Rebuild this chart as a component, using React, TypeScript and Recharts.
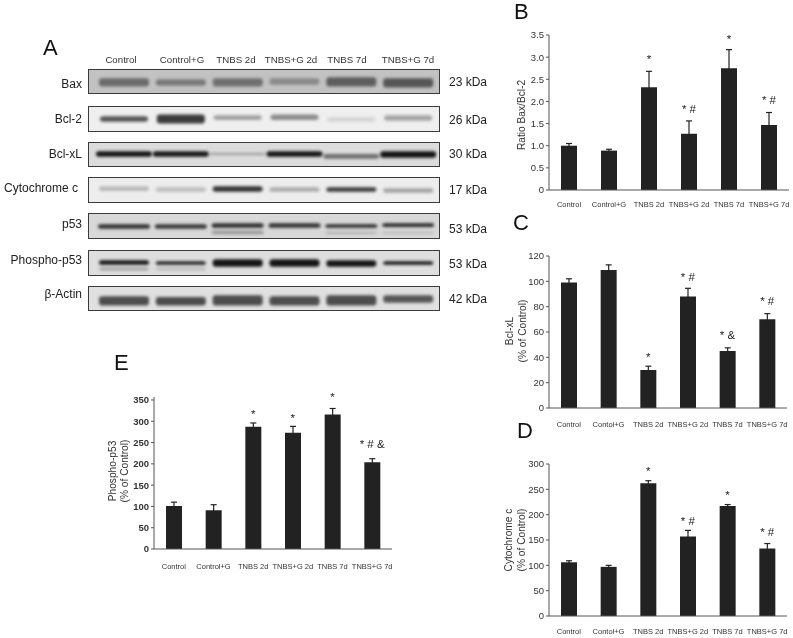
import { ComposedChart, Bar, Line, XAxis, YAxis, ErrorBar, LabelList, Label } from 'recharts';

const groups = ['Control', 'Control+G', 'TNBS 2d', 'TNBS+G 2d', 'TNBS 7d', 'TNBS+G 7d'];
const groupsTypo = ['Control', 'Contol+G', 'TNBS 2d', 'TNBS+G 2d', 'TNBS 7d', 'TNBS+G 7d'];

// bar heights, error sizes, significance marks and the height each mark sits at
const baxValues = [1.0, 0.89, 2.32, 1.27, 2.75, 1.47];
const baxErrors = [0.05, 0.03, 0.36, 0.29, 0.42, 0.28];
const baxMarks = ['', '', '*', '* #', '*', '* #'];
const baxMarkAt = [null, null, 2.96, 1.83, 3.41, 2.03];

const xlValues = [99, 109, 30, 88, 45, 70];
const xlErrors = [3, 4, 3, 6.5, 2.5, 4.5];
const xlMarks = ['', '', '*', '* #', '* &', '* #'];
const xlMarkAt = [null, null, 40, 103.6, 57.6, 84.4];

const cytValues = [106, 97, 262, 157, 217, 133];
const cytErrors = [3, 3, 5, 12, 3, 10];
const cytMarks = ['', '', '*', '* #', '*', '* #'];
const cytMarkAt = [null, null, 286.6, 187, 238.6, 165];

const phosValues = [101, 91, 287, 273, 316, 204];
const phosErrors = [9, 13, 9, 15, 14, 8];
const phosMarks = ['', '', '*', '*', '*', '* # &'];
const phosMarkAt = [null, null, 318, 309, 357, 246];

// blot bands: [from, to] height inside the strip, and how dark each band is
const blotRows = [
  { name: 'Bax', kda: '23 kDa', top: 69, h: 25, bg: '#c2c2c2', size: 50, kdaTop: 82.5, labelTop: 84.5, labelRight: 82,
    main: [[7, 16], [8, 15], [7, 16], [9, 16], [7, 17], [6, 16]], dark: [0.5, 0.42, 0.48, 0.32, 0.58, 0.62] },
  { name: 'Bcl-2', kda: '26 kDa', top: 106, h: 26, bg: '#efefef', size: 48, kdaTop: 120.5, labelTop: 119.5, labelRight: 82,
    main: [[10, 16], [8, 18], [12, 17], [12, 18], [10, 15], [11, 17]], dark: [0.7, 0.82, 0.36, 0.46, 0.12, 0.34] },
  { name: 'Bcl-xL', kda: '30 kDa', top: 142, h: 25, bg: '#dcdcdc', size: 56, kdaTop: 155, labelTop: 154.5, labelRight: 82,
    main: [[10, 16], [10, 16], [12, 14], [10, 16], [8, 13], [9, 16]], dark: [1, 0.98, 0.35, 1, 0.55, 1] },
  { name: 'Cytochrome c', kda: '17 kDa', top: 177, h: 26, bg: '#ededed', size: 50, kdaTop: 190.5, labelTop: 188.5, labelRight: 78,
    main: [[12, 17], [11, 16], [11, 17], [11, 16], [11, 16], [10, 15]], dark: [0.24, 0.22, 0.85, 0.3, 0.82, 0.34] },
  { name: 'p53', kda: '53 kDa', top: 213, h: 26, bg: '#d8d8d8', size: 52, kdaTop: 230, labelTop: 224.5, labelRight: 82,
    main: [[10, 15], [10, 15], [11, 16], [11, 16], [11, 15], [12, 16]], dark: [0.85, 0.82, 0.88, 0.85, 0.9, 0.9] },
  { name: 'Phospho-p53', kda: '53 kDa', top: 250, h: 26, bg: '#dedede', size: 50, kdaTop: 265, labelTop: 260.5, labelRight: 82,
    main: [[11, 16], [11, 15], [9, 17], [9, 17], [9, 16], [11, 15]], dark: [1, 0.95, 1, 1, 1, 1] },
  { name: 'β-Actin', kda: '42 kDa', top: 286, h: 25, bg: '#e0e0e0', size: 50, kdaTop: 299.5, labelTop: 295, labelRight: 82,
    main: [[5, 15], [5, 14], [5, 16], [5, 15], [5, 16], [8, 16]], dark: [0.72, 0.72, 0.72, 0.72, 0.72, 0.68] },
];
// fainter second bands on the p53 strips
const p53Lower = [[0, 0], [0, 0], [4, 8], [0, 0], [4, 7], [4, 7]];
const p53LowerDark = [0, 0, 0.32, 0, 0.18, 0.12];
const phosLower = [[5, 8], [5, 8], [0, 0], [0, 0], [0, 0], [0, 0]];
const phosLowerDark = [0.3, 0.18, 0, 0, 0, 0];

const font = '"Liberation Sans", Arial, sans-serif';
const laneCentres = [121, 182, 236, 291, 347, 408];

function BandShape(props: any) {
  const { x, y, width, height, payload, darkKey } = props;
  if (!height || height <= 0) return null;
  return (
    <rect
      x={x}
      y={y}
      width={width}
      height={height}
      rx={3}
      fill="#141414"
      fillOpacity={payload[darkKey]}
      style={{ filter: 'blur(1.7px)' }}
    />
  );
}

function BlotRow({ row }: { row: any }) {
  const lower = row.name === 'p53' ? p53Lower : row.name === 'Phospho-p53' ? phosLower : null;
  const lowerDark = row.name === 'p53' ? p53LowerDark : phosLowerDark;
  const data = groups.map((g, i) => ({
    lane: g,
    band: row.main[i],
    dark: row.dark[i],
    low: lower ? lower[i] : [0, 0],
    lowDark: lower ? lowerDark[i] : 0,
  }));
  return (
    <>
      <div style={{ position: 'absolute', left: 0, width: row.labelRight, top: row.labelTop - 8, textAlign: 'right', fontSize: 12, color: '#222', whiteSpace: 'nowrap' }}>
        {row.name}
      </div>
      <div style={{ position: 'absolute', left: 449, top: row.kdaTop - 8, fontSize: 12, color: '#222' }}>{row.kda}</div>
      <div style={{ position: 'absolute', left: 88, top: row.top, width: 352, height: row.h, boxSizing: 'border-box', border: '1px solid #3a3a3a', background: row.bg, overflow: 'hidden' }}>
        <ComposedChart width={350} height={row.h - 2} data={data} barGap={-row.size} margin={{ top: 0, right: 2, bottom: 0, left: 7 }}>
          <XAxis dataKey="lane" hide />
          <YAxis hide domain={[0, row.h]} />
          <Bar dataKey="band" barSize={row.size} isAnimationActive={false} shape={<BandShape darkKey="dark" />} />
          {lower && <Bar dataKey="low" barSize={row.size} isAnimationActive={false} shape={<BandShape darkKey="lowDark" />} />}
        </ComposedChart>
      </div>
    </>
  );
}

function StatChart({ left, top, width, height, yWidth, right, plotTop, axisH, xMargin, cats, values, errors, marks, markAt, domain, ticks, tickFmt, labelLines, labelXs, labelY, tickWeight }: any) {
  const data = cats.map((c: string, i: number) => ({
    group: c,
    value: values[i],
    err: errors[i],
    mark: marks[i],
    markAt: markAt[i],
  }));
  return (
    <div style={{ position: 'absolute', left, top }}>
      <ComposedChart width={width} height={height} data={data} margin={{ top: plotTop, right, bottom: 0, left: 0 }}>
        <XAxis
          dataKey="group"
          interval={0}
          height={axisH}
          tickLine={false}
          tickMargin={xMargin}
          stroke="#555"
          tick={{ fontSize: 7.5, fill: '#333', fontFamily: font }}
        />
        <YAxis
          width={yWidth}
          domain={domain}
          ticks={ticks}
          interval={0}
          tickSize={3}
          tickFormatter={tickFmt}
          stroke="#555"
          tick={{ fontSize: 9.5, fill: '#333', fontFamily: font, fontWeight: tickWeight }}
        >
          <Label
            content={() => (
              <g>
                {labelLines.map((l: string, i: number) => (
                  <text
                    key={l}
                    transform={`translate(${labelXs[i]},${labelY}) rotate(-90)`}
                    textAnchor="middle"
                    fontSize={10.2}
                    fill="#333"
                    fontFamily={font}
                  >
                    {l}
                  </text>
                ))}
              </g>
            )}
          />
        </YAxis>
        <Bar dataKey="value" barSize={16} fill="#222" isAnimationActive={false}>
          <ErrorBar dataKey="err" direction="y" width={3} stroke="#222" strokeWidth={1.2} isAnimationActive={false} />
        </Bar>
        <Line dataKey="markAt" stroke="none" dot={false} connectNulls={false} isAnimationActive={false}>
          <LabelList dataKey="mark" position="center" fontSize={11.5} fill="#222" fontFamily={font} />
        </Line>
      </ComposedChart>
    </div>
  );
}

const bigLetter = (text: string, left: number, top: number) => (
  <div style={{ position: 'absolute', left, top, fontSize: 22, lineHeight: '22px', color: '#111' }}>{text}</div>
);

export default function App() {
  return (
    <div style={{ position: 'absolute', left: 0, top: 0, width: 793, height: 638, background: '#fff', overflow: 'hidden', fontFamily: font, filter: 'blur(0.3px)' }}>
      {bigLetter('A', 43, 37)}
      {bigLetter('B', 514, 1)}
      {bigLetter('C', 513, 212)}
      {bigLetter('D', 517, 420)}
      {bigLetter('E', 114, 352)}

      {groups.map((g, i) => (
        <div key={g} style={{ position: 'absolute', left: laneCentres[i] - 40, width: 80, top: 54, textAlign: 'center', fontSize: 9.7, color: '#333' }}>{g}</div>
      ))}
      {blotRows.map((r) => (
        <BlotRow key={r.name} row={r} />
      ))}

      <StatChart left={500} top={20} width={293} height={200} yWidth={49} right={4} plotTop={15} axisH={30} xMargin={6}
        cats={groups} values={baxValues} errors={baxErrors} marks={baxMarks} markAt={baxMarkAt}
        domain={[0, 3.5]} ticks={[0, 0.5, 1, 1.5, 2, 2.5, 3, 3.5]}
        tickFmt={(v: number) => (v === 0 ? '0' : v.toFixed(1))}
        labelLines={['Ratio Bax/Bcl-2']} labelXs={[25]} labelY={95} />
      <StatChart left={500} top={240} width={293} height={195} yWidth={49} right={6} plotTop={16} axisH={27} xMargin={8}
        cats={groupsTypo} values={xlValues} errors={xlErrors} marks={xlMarks} markAt={xlMarkAt}
        domain={[0, 120]} ticks={[0, 20, 40, 60, 80, 100, 120]}
        labelLines={['Bcl-xL', '(% of Control)']} labelXs={[13, 26]} labelY={91} />
      <StatChart left={500} top={448} width={293} height={190} yWidth={49} right={6} plotTop={16} axisH={22} xMargin={7}
        cats={groupsTypo} values={cytValues} errors={cytErrors} marks={cytMarks} markAt={cytMarkAt}
        domain={[0, 300]} ticks={[0, 50, 100, 150, 200, 250, 300]}
        labelLines={['Cytochrome c', '(% of Control)']} labelXs={[12, 25]} labelY={92} />
      <StatChart left={100} top={380} width={300} height={200} yWidth={54} right={8} plotTop={17} axisH={31} xMargin={9}
        cats={groups} values={phosValues} errors={phosErrors} marks={phosMarks} markAt={phosMarkAt}
        domain={[0, 350]} ticks={[0, 50, 100, 150, 200, 250, 300, 350]} tickWeight="bold"
        labelLines={['Phospho-p53', '(% of Control)']} labelXs={[16, 28]} labelY={91} />
    </div>
  );
}
